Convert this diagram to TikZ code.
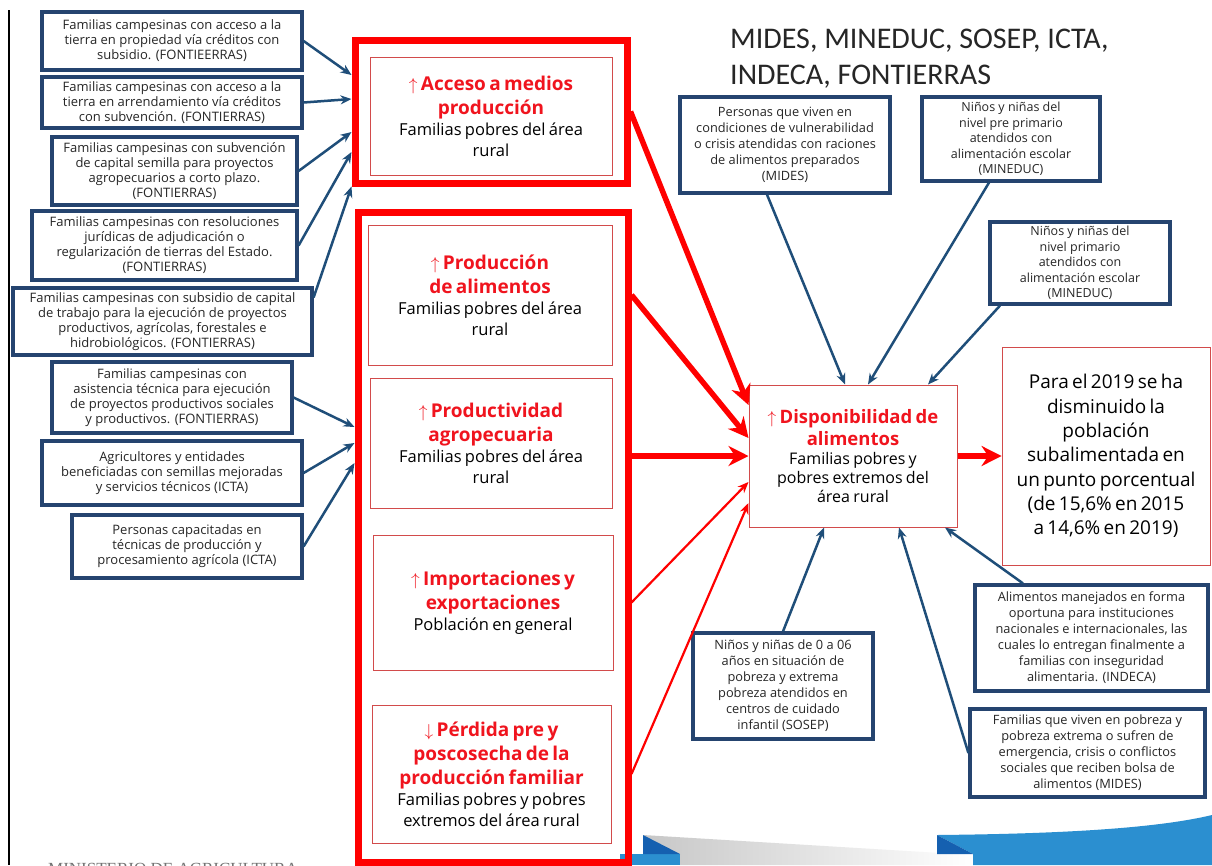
\documentclass[tikz,border=0pt]{standalone}
\usepackage{fontspec}
\setmainfont{Open Sans}
\newfontfamily\headfont{Carlito}
\newfontfamily\footfont{Liberation Serif}
\usepackage{tikz}
\usetikzlibrary{arrows.meta}
\definecolor{boxblue}{HTML}{25446F}
\definecolor{lineblue}{HTML}{1F4E79}
\definecolor{titlered}{HTML}{F0141E}
\definecolor{edgered}{HTML}{D24B4B}
\definecolor{swoopblue}{HTML}{2B8FD0}
\definecolor{swoopdark}{HTML}{1560B0}
\newcommand{\goalhead}[1]{{\fontsize{19}{24}\selectfont\bfseries\color{titlered}#1\par}}
\newcommand{\goalsub}[1]{{\fontsize{16.5}{21}\selectfont #1\par}}
\tikzset{
  blue node/.style={rectangle,draw=boxblue,line width=3.2pt,fill=white,align=center,inner sep=1pt,text=black!85,font=\fontsize{13}{15}\selectfont},
  right node/.style={blue node,font=\fontsize{12.8}{16}\selectfont},
  red frame/.style={rectangle,draw=red,line width=7pt},
  red node/.style={rectangle,draw=edgered,line width=0.8pt,fill=white,align=center,inner sep=4pt},
  blue arrow/.style={->,draw=lineblue,line width=2.5pt},
  thin arrow/.style={->,draw=red,line width=2.2pt},
  red arrow/.style={-{Stealth[length=20pt,width=20pt]},draw=red,line width=5.5pt}
}

\begin{document}
\begin{tikzpicture}[x=1pt,y=-1pt,>={Stealth[length=11pt,width=9pt]}]
  \clip (0,0) rectangle (1212,865);
  \fill[white] (0,0) rectangle (1212,865);
  \shade[left color=black!22,right color=white] (643,835) -- (973,855) -- (973,865) -- (680,865) -- cycle;
  \fill[swoopblue] (620,854) -- (680,854) -- (680,865) -- (620,865) -- cycle;
  \fill[swoopdark] (643,835) -- (680,854) -- (643,854) -- cycle;
  \fill[swoopblue] (937,835) .. controls (1040,834) and (1150,830) .. (1212,815) -- (1212,865) -- (973,865) -- (973,854) -- cycle;
  \fill[swoopdark] (937,835) -- (973,854) -- (937,854) -- cycle;
  \draw[line width=1.3pt] (9,10) -- (9,865);
  \node[anchor=base west,inner sep=0,text=black!55,font=\footfont\fontsize{17}{17}\selectfont] (foot) at (48,874) {MINISTERIO DE AGRICULTURA};

  \node[anchor=north west,align=left,inner sep=0,text=black!85,font=\headfont\fontsize{30}{36}\selectfont] (title) at (730,29) {MIDES, MINEDUC, SOSEP, ICTA,\\INDECA, FONTIERRAS};

  \node[blue node,minimum width=260pt,minimum height=58pt] (l1) at (172,41) {Familias campesinas con acceso a la\\tierra en propiedad vía créditos con\\subsidio. (FONTIEERRAS)};
  \node[blue node,minimum width=260pt,minimum height=51pt] (l2) at (172,102.5) {Familias campesinas con acceso a la\\tierra en arrendamiento vía créditos\\con subvención. (FONTIERRAS)};
  \node[blue node,minimum width=245pt,minimum height=68pt] (l3) at (174.5,171) {Familias campesinas con subvención\\de capital semilla para proyectos\\agropecuarios a corto plazo.\\(FONTIERRAS)};
  \node[blue node,minimum width=265pt,minimum height=69pt] (l4) at (164.5,245.5) {Familias campesinas con resoluciones\\jurídicas de adjudicación o\\regularización de tierras del Estado.\\(FONTIERRAS)};
  \node[blue node,minimum width=299pt,minimum height=67pt] (l5) at (162.5,321.5) {Familias campesinas con subsidio de capital\\de trabajo para la ejecución de proyectos\\productivos, agrícolas, forestales e\\hidrobiológicos. (FONTIERRAS)};
  \node[blue node,minimum width=240pt,minimum height=71pt] (l6) at (172,397.5) {Familias campesinas con\\asistencia técnica para ejecución\\de proyectos productivos sociales\\y productivos. (FONTIERRAS)};
  \node[blue node,minimum width=260pt,minimum height=64pt] (l7) at (172,473) {Agricultores y entidades\\beneficiadas con semillas mejoradas\\y servicios técnicos (ICTA)};
  \node[blue node,minimum width=230pt,minimum height=63pt] (l8) at (187,546.5) {Personas capacitadas en\\técnicas de producción y\\procesamiento agrícola (ICTA)};

  \node[red frame,minimum width=272pt,minimum height=143pt] (f1) at (491,111.5) {};
  \node[red frame,minimum width=270pt,minimum height=650pt] (f2) at (493,537) {};
  \node[red node,text width=232pt,minimum width=242pt,minimum height=118pt] (a1) at (491,116) {\goalhead{$\uparrow$ Acceso a medios\\producción}\goalsub{Familias pobres del área\\rural}};
  \node[red node,text width=232pt,minimum width=244pt,minimum height=140pt] (a2) at (490,295) {\goalhead{$\uparrow$ Producción\\de alimentos}\goalsub{Familias pobres del área\\rural}};
  \node[red node,text width=232pt,minimum width=242pt,minimum height=130pt] (a3) at (491,443) {\goalhead{$\uparrow$ Productividad\\agropecuaria}\goalsub{Familias pobres del área\\rural}};
  \node[red node,text width=232pt,minimum width=240pt,minimum height=135pt] (a4) at (493,602.5) {\goalhead{$\uparrow$ Importaciones y\\exportaciones}\goalsub{Población en general}};
  \node[red node,text width=231pt,minimum width=239pt,minimum height=138pt] (a5) at (491.5,774) {\goalhead{$\downarrow$ Pérdida pre y\\poscosecha de la\\producción familiar}\goalsub{Familias pobres y pobres\\extremos del área rural}};

  \node[red node,line width=1pt,text width=200pt,minimum height=142pt] (d) at (853,456) {{\fontsize{18.5}{22}\selectfont\bfseries\color{titlered}$\uparrow$ Disponibilidad de\\alimentos\par}{\fontsize{16}{19}\selectfont Familias pobres y\\pobres extremos del\\área rural\par}};
  \node[red node,text width=200pt,minimum height=218pt] (res) at (1106,456) {{\fontsize{19}{24.3}\selectfont Para el 2019 se ha\\disminuido la\\población\\subalimentada en\\un punto porcentual\\(de 15,6\% en 2015\\a 14,6\% en 2019)\par}};

  \node[right node,minimum width=210pt,minimum height=96pt] (b1) at (785,145) {Personas que viven en\\condiciones de vulnerabilidad\\o crisis atendidas con raciones\\de alimentos preparados\\(MIDES)};
  \node[right node,minimum width=178pt,minimum height=84pt,font=\fontsize{12.5}{15.5}\selectfont] (b2) at (1011,139) {Niños y niñas del\\nivel pre primario\\atendidos con\\alimentación escolar\\(MINEDUC)};
  \node[right node,minimum width=180pt,minimum height=82pt,font=\fontsize{12.5}{15.5}\selectfont] (b3) at (1080,263) {Niños y niñas del\\nivel primario\\atendidos con\\alimentación escolar\\(MINEDUC)};
  \node[right node,minimum width=180pt,minimum height=106pt] (b4) at (783,686) {Niños y niñas de 0 a 06\\años en situación de\\pobreza y extrema\\pobreza atendidos en\\centros de cuidado\\infantil (SOSEP)};
  \node[right node,minimum width=233pt,minimum height=106pt] (b5) at (1091.5,638) {Alimentos manejados en forma\\oportuna para instituciones\\nacionales e internacionales, las\\cuales lo entregan finalmente a\\familias con inseguridad\\alimentaria. (INDECA)};
  \node[right node,minimum width=235pt,minimum height=88pt] (b6) at (1087.5,753) {Familias que viven en pobreza y\\pobreza extrema o sufren de\\emergencia, crisis o conflictos\\sociales que reciben bolsa de\\alimentos (MIDES)};

  \draw[blue arrow] (l1.east) -- ([yshift=36.5pt]f1.west);
  \draw[blue arrow] (l2.east) -- ([yshift=12.5pt]f1.west);
  \draw[blue arrow] (l3.east) -- ([yshift=-20.5pt]f1.west);
  \draw[blue arrow] (l4.east) -- ([yshift=-40.5pt]f1.west);
  \draw[blue arrow] ([yshift=24pt]l5.east) -- (f1.south west);
  \draw[blue arrow] (l6.east) -- ([yshift=110pt]f2.west);
  \draw[blue arrow] (l7.east) -- ([yshift=94pt]f2.west);
  \draw[blue arrow] (l8.east) -- ([yshift=74pt]f2.west);

  \draw[red arrow] (f1.east) -- ([yshift=51pt]d.west);
  \draw[red arrow] (a2.east -| f2.east) -- ([yshift=18pt]d.west);
  \draw[red arrow] (f2.east |- d.west) -- (d.west);
  \draw[thin arrow] (a4.east -| f2.east) -- ([yshift=-26pt]d.west);
  \draw[thin arrow] (a5.east -| f2.east) -- ([yshift=-47pt]d.west);
  \draw[red arrow] (d.east) -- (res.west);

  \draw[blue arrow] ([xshift=-18pt]b1.south) -- ([xshift=-8pt]d.north);
  \draw[blue arrow] ([xshift=-22pt]b2.south) -- ([xshift=15pt]d.north);
  \draw[blue arrow] ([xshift=-80pt]b3.south) -- ([xshift=75pt]d.north);
  \draw[blue arrow] (b4.north) -- ([xshift=-29pt]d.south);
  \draw[blue arrow] ([xshift=-68.5pt]b5.north) -- ([xshift=92pt]d.south);
  \draw[blue arrow] (b6.west) -- ([xshift=46pt]d.south);
\end{tikzpicture}
\end{document}
